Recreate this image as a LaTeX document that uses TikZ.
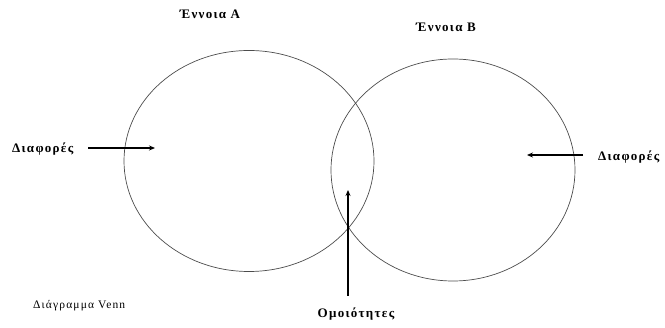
\documentclass[tikz,border=0pt]{standalone}
\usepackage{fontspec}
\setmainfont{Liberation Serif}
\usetikzlibrary{shapes.geometric,arrows.meta}
\tikzset{
  lbl/.style={font=\fontsize{13}{15}\selectfont\bfseries\addfontfeature{LetterSpace=10}, inner sep=0pt},
  small/.style={font=\fontsize{11.5}{13}\selectfont\addfontfeature{LetterSpace=10}, inner sep=0pt},
  ring/.style={draw=black!70, line width=0.7pt, ellipse, inner sep=0pt},
  arr/.style={draw=black, line width=1.4pt, -{Stealth[length=6pt,width=5pt]}}
}
\begin{document}
\begin{tikzpicture}[x=1pt,y=-1pt]
\useasboundingbox (0,0) rectangle (665,328);
\node[ring, minimum width=250pt, minimum height=221pt] (A) at (249,161) {};
\node[ring, minimum width=244pt, minimum height=222pt] (B) at (453,170) {};
\node[lbl] (ta) at (210,14) {Έννοια A};
\node[lbl] (tb) at (446,27) {Έννοια B};
\node[lbl, anchor=west] (dl) at (12,149) {Διαφορές};
\node[lbl, anchor=west] (dr) at (598,157) {Διαφορές};
\node[small, anchor=west] (vn) at (33,306) {Διάγραμμα Venn};
\node[lbl] (om) at (356,314) {Ομοιότητες};
\coordinate (a1s) at (88,148);
\coordinate (a1e) at (155,148);
\coordinate (a2s) at (583,155);
\coordinate (a2e) at (527,155);
\coordinate (a3s) at (348,296);
\coordinate (a3e) at (348,190);
\draw[arr] (a1s) -- (a1e);
\draw[arr] (a2s) -- (a2e);
\draw[arr] (a3s) -- (a3e);
\end{tikzpicture}
\end{document}
